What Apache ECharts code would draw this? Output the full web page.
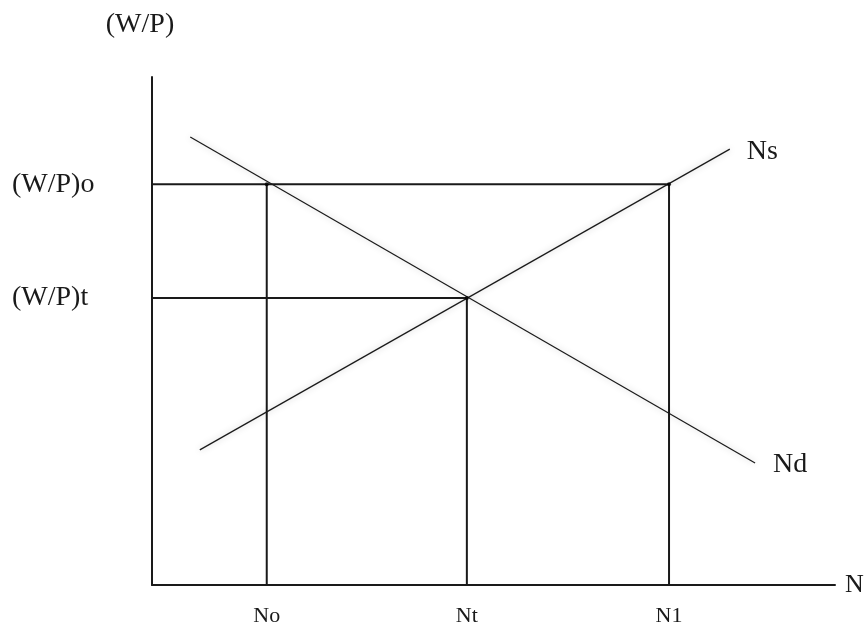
<!DOCTYPE html>
<html>
<head>
<meta charset="utf-8">
<script src="https://cdn.jsdelivr.net/npm/echarts@6/dist/echarts.min.js"></script>
<style>html,body{margin:0;padding:0;background:#fff}#c{width:868px;height:633px}</style>
</head>
<body>
<div id="c"></div>
<script>
// Data (chart units: x 0..100, y 0..100)
const xTickValues = [16.8, 46.1, 75.7];
const xTickLabels = ['No', 'Nt', 'N1'];
const yTickValues = [56.5, 78.9];
const yTickLabels = ['(W/P)t', '(W/P)o'];
const nsLine = [[7.0, 26.6], [84.6, 85.8]];
const ndLine = [[5.6, 88.2], [88.3, 24.0]];
const wpo = 78.9, wpt = 56.5;
const No = 16.8, Nt = 46.1, N1 = 75.7;
const dropLines = [
  [[0, wpo], [N1, wpo]],
  [[0, wpt], [Nt, wpt]],
  [[No, 0], [No, wpo]],
  [[Nt, 0], [Nt, wpt]],
  [[N1, 0], [N1, wpo]]
];
const dots = [[No, wpo], [Nt, wpt], [N1, wpo]];

const FONT = 'Liberation Serif';
const chart = echarts.init(document.getElementById('c'));
const series = [];
dropLines.forEach(seg => series.push({
  type: 'line', data: seg, symbol: 'none', silent: true,
  lineStyle: { color: '#1a1a1a', width: 2 }, z: 2
}));
series.push({
  name: 'Ns', type: 'line', data: nsLine, symbol: 'none',
  lineStyle: { color: '#1a1a1a', width: 1.2, shadowColor: 'rgba(0,0,0,0.25)', shadowBlur: 6 },
  endLabel: { show: true, formatter: 'Ns', offset: [9, 3], fontFamily: FONT, fontSize: 28, color: '#1a1a1a' }, z: 3
});
series.push({
  name: 'Nd', type: 'line', data: ndLine, symbol: 'none',
  lineStyle: { color: '#1a1a1a', width: 1.2, shadowColor: 'rgba(0,0,0,0.25)', shadowBlur: 6 },
  endLabel: { show: true, formatter: 'Nd', offset: [10, 2], fontFamily: FONT, fontSize: 28, color: '#1a1a1a' }, z: 3
});
series.push({
  type: 'scatter', data: dots, symbolSize: 4, itemStyle: { color: '#000' }, z: 4
});

chart.setOption({
  animation: false,
  backgroundColor: '#fff',
  grid: { left: 152, right: 33, top: 77, bottom: 48, containLabel: false },
  xAxis: {
    type: 'value', min: 0, max: 100,
    name: 'N', nameLocation: 'end', nameGap: 10,
    nameTextStyle: { fontFamily: FONT, fontSize: 26, color: '#1a1a1a', verticalAlign: 'middle' },
    axisLine: { show: true, lineStyle: { color: '#1a1a1a', width: 2 } },
    axisTick: { show: false },
    splitLine: { show: false },
    axisLabel: {
      customValues: xTickValues,
      formatter: v => xTickLabels[xTickValues.indexOf(v)] || '',
      margin: 20, fontFamily: FONT, fontSize: 22, color: '#1a1a1a'
    }
  },
  yAxis: {
    type: 'value', min: 0, max: 100,
    name: '(W/P)', nameLocation: 'end', nameGap: 38,
    nameTextStyle: { fontFamily: FONT, fontSize: 28, color: '#1a1a1a', padding: [0, 24, 0, 0] },
    axisLine: { show: true, lineStyle: { color: '#1a1a1a', width: 2 } },
    axisTick: { show: false },
    splitLine: { show: false },
    axisLabel: {
      customValues: yTickValues,
      formatter: v => yTickLabels[yTickValues.indexOf(v)] || '',
      margin: 140, align: 'left', fontFamily: FONT, fontSize: 28, color: '#1a1a1a'
    }
  },
  series: series
});
</script>
</body>
</html>
